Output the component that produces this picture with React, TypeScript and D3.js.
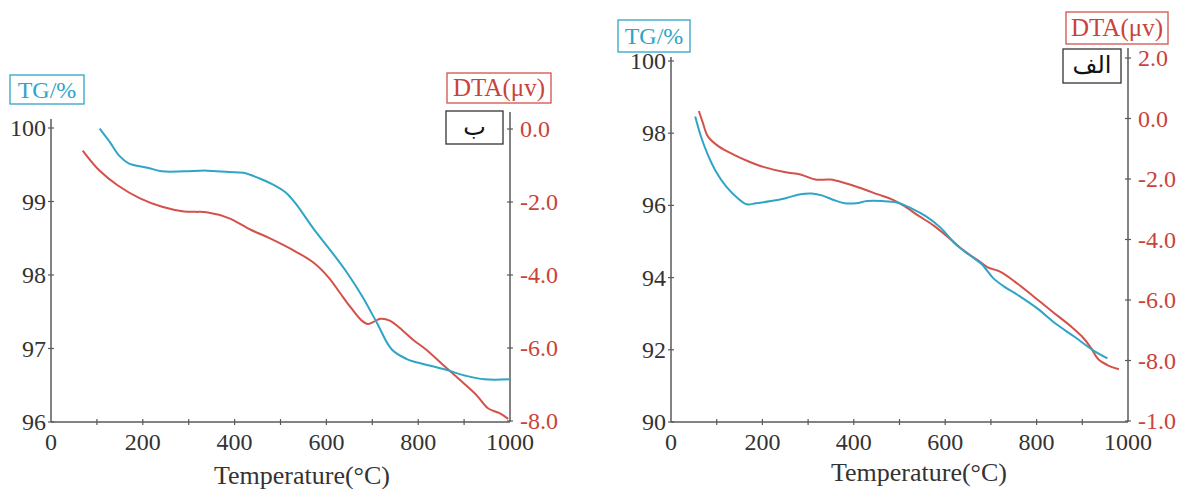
import React from "react";
import * as d3 from "d3";

// ب (left) panel
const leftTgTemp = [106, 129, 149, 169, 210, 242, 290, 339, 387, 419, 452, 484, 512, 532, 573, 613, 645, 677, 710, 742, 774, 798, 855, 903, 944, 1000];
const leftTg = [99.99, 99.8, 99.62, 99.52, 99.46, 99.41, 99.41, 99.42, 99.4, 99.39, 99.32, 99.23, 99.12, 98.98, 98.62, 98.3, 98.03, 97.72, 97.35, 96.99, 96.86, 96.81, 96.72, 96.63, 96.58, 96.58];
const leftDtaTemp = [69, 105, 145, 194, 242, 290, 315, 339, 387, 435, 476, 532, 573, 605, 629, 653, 677, 690, 702, 718, 738, 766, 790, 815, 855, 895, 927, 952, 976, 996];
const leftDta = [-0.59, -1.13, -1.54, -1.9, -2.13, -2.26, -2.27, -2.28, -2.44, -2.76, -2.99, -3.35, -3.67, -4.07, -4.48, -4.89, -5.25, -5.34, -5.29, -5.2, -5.25, -5.52, -5.79, -6.02, -6.47, -6.92, -7.29, -7.65, -7.78, -7.94];
const leftTgTicks = [96, 97, 98, 99, 100];
const leftDtaTicks = [0, -2, -4, -6, -8];
const leftDtaLabels = ["0.0", "-2.0", "-4.0", "-6.0", "-8.0"];

// الف (right) panel
const rightTgTemp = [53, 65, 81, 97, 121, 146, 166, 186, 219, 251, 283, 308, 332, 356, 380, 405, 429, 462, 494, 526, 559, 591, 623, 656, 680, 704, 729, 761, 802, 842, 883, 923, 955];
const rightTg = [98.46, 97.93, 97.39, 96.97, 96.52, 96.2, 96.03, 96.06, 96.12, 96.2, 96.31, 96.33, 96.27, 96.15, 96.06, 96.06, 96.12, 96.12, 96.08, 95.92, 95.69, 95.37, 94.92, 94.6, 94.37, 94.0, 93.75, 93.5, 93.14, 92.72, 92.36, 91.99, 91.76];
const rightDtaTemp = [61, 69, 81, 105, 138, 170, 202, 251, 283, 316, 348, 380, 413, 453, 486, 510, 542, 575, 607, 640, 672, 692, 721, 753, 794, 834, 875, 899, 919, 935, 955, 980];
const rightDta = [0.25, -0.11, -0.6, -0.93, -1.2, -1.42, -1.6, -1.78, -1.85, -2.02, -2.02, -2.13, -2.29, -2.51, -2.69, -2.89, -3.22, -3.54, -3.93, -4.36, -4.69, -4.91, -5.07, -5.4, -5.89, -6.38, -6.87, -7.2, -7.58, -7.96, -8.15, -8.29];
const rightTgTicks = [90, 92, 94, 96, 98, 100];
const rightDtaTicks = [2, 0, -2, -4, -6, -8, -10];
const rightDtaLabels = ["2.0", "0.0", "-2.0", "-4.0", "-6.0", "-8.0", "-1.0"];

const tempTicks = [0, 100, 200, 300, 400, 500, 600, 700, 800, 900, 1000];
const tempLabels = ["0", "", "200", "", "400", "", "600", "", "800", "", "1000"];

const TEAL = "#2fa5c6";
const RED = "#d4514a";
const RED_TEXT = "#c9433b";
const AXIS = "#5a5a5a";
const TEXT = "#333";
const SERIF = "'Liberation Serif', 'DejaVu Serif', serif";

interface PanelProps {
  x0: number;
  x1: number;
  yBottom: number;
  tgDomain: [number, number];
  tgRange: [number, number];
  dtaDomain: [number, number];
  dtaRange: [number, number];
  leftTop: number;
  rightTop: number;
  tgTemp: number[];
  tg: number[];
  dtaTemp: number[];
  dta: number[];
  tgTicks: number[];
  dtaTicks: number[];
  dtaLabels: string[];
  tgBox: [number, number, number, number];
  dtaBox: [number, number, number, number];
  tagBox: [number, number, number, number];
  tag: string;
  xTitleX: number;
  xTitleY: number;
}

const Panel: React.FC<PanelProps> = (p) => {
  const x = d3.scaleLinear().domain([0, 1000]).range([p.x0, p.x1]);
  const yTg = d3.scaleLinear().domain(p.tgDomain).range(p.tgRange);
  const yDta = d3.scaleLinear().domain(p.dtaDomain).range(p.dtaRange);

  const tgLine = d3
    .line<number>()
    .x((_, i) => x(p.tgTemp[i]))
    .y((d) => yTg(d))
    .curve(d3.curveCatmullRom.alpha(0.5));
  const dtaLine = d3
    .line<number>()
    .x((_, i) => x(p.dtaTemp[i]))
    .y((d) => yDta(d))
    .curve(d3.curveCatmullRom.alpha(0.5));

  const box = (b: [number, number, number, number], stroke: string) => (
    <rect x={b[0]} y={b[1]} width={b[2]} height={b[3]} fill="white" stroke={stroke} strokeWidth={1.3} />
  );

  return (
    <g>
      {/* axes */}
      <line x1={p.x0} x2={p.x0} y1={p.leftTop} y2={p.yBottom} stroke={AXIS} strokeWidth={1.5} />
      <line x1={p.x1} x2={p.x1} y1={p.rightTop} y2={p.yBottom} stroke={AXIS} strokeWidth={1.5} />
      <line x1={p.x0} x2={p.x1} y1={p.yBottom} y2={p.yBottom} stroke={AXIS} strokeWidth={1.5} />

      {tempTicks.map((t, i) => (
        <g key={"xt" + t}>
          {t > 0 && t < 1000 && (
            <line x1={x(t)} x2={x(t)} y1={p.yBottom - 3} y2={p.yBottom + 3} stroke={AXIS} strokeWidth={1.2} />
          )}
          <text x={x(t)} y={p.yBottom + 28} textAnchor="middle" fontFamily={SERIF} fontSize={24} fill={TEXT}>
            {tempLabels[i]}
          </text>
        </g>
      ))}

      {p.tgTicks.map((t) => (
        <g key={"tg" + t}>
          <line x1={p.x0 - 3} x2={p.x0 + 3} y1={yTg(t)} y2={yTg(t)} stroke={AXIS} strokeWidth={1.2} />
          <text x={p.x0 - 5} y={yTg(t) + 8} textAnchor="end" fontFamily={SERIF} fontSize={24} fill={TEXT}>
            {t}
          </text>
        </g>
      ))}

      {p.dtaTicks.map((t, i) => (
        <g key={"dta" + t}>
          <line x1={p.x1 - 3} x2={p.x1 + 3} y1={yDta(t)} y2={yDta(t)} stroke={AXIS} strokeWidth={1.2} />
          <text x={p.x1 + 10} y={yDta(t) + 8} textAnchor="start" fontFamily={SERIF} fontSize={24} fill={RED_TEXT}>
            {p.dtaLabels[i]}
          </text>
        </g>
      ))}

      {/* curves */}
      <path d={dtaLine(p.dta) ?? ""} fill="none" stroke={RED} strokeWidth={2} />
      <path d={tgLine(p.tg) ?? ""} fill="none" stroke={TEAL} strokeWidth={2} />

      {/* labels */}
      {box(p.tgBox, TEAL)}
      <text
        x={p.tgBox[0] + p.tgBox[2] / 2}
        y={p.tgBox[1] + p.tgBox[3] / 2 + 8}
        textAnchor="middle"
        fontFamily={SERIF}
        fontSize={24}
        fill={TEAL}
      >
        TG/%
      </text>
      {box(p.dtaBox, RED)}
      <text
        x={p.dtaBox[0] + p.dtaBox[2] / 2}
        y={p.dtaBox[1] + p.dtaBox[3] / 2 + 8}
        textAnchor="middle"
        fontFamily={SERIF}
        fontSize={25}
        fill={RED_TEXT}
      >
        DTA(μv)
      </text>
      {box(p.tagBox, "#333")}
      <text
        x={p.tagBox[0] + p.tagBox[2] / 2}
        y={p.tagBox[1] + p.tagBox[3] / 2 + 7}
        textAnchor="middle"
        fontFamily="'DejaVu Sans', 'Noto Sans', sans-serif"
        fontSize={24}
        fill="#111"
        direction="rtl"
      >
        {p.tag}
      </text>

      <text x={p.xTitleX} y={p.xTitleY} textAnchor="middle" fontFamily={SERIF} fontSize={26} fill={TEXT}>
        Temperature(°C)
      </text>
    </g>
  );
};

export default function App() {
  return (
    <svg
      width={1180}
      height={489}
      style={{ position: "absolute", left: 0, top: 0, background: "white" }}
    >
      <Panel
        x0={51}
        x1={510}
        yBottom={422}
        tgDomain={[96, 100]}
        tgRange={[422, 128]}
        dtaDomain={[-8, 0]}
        dtaRange={[421, 129]}
        leftTop={119}
        rightTop={112}
        tgTemp={leftTgTemp}
        tg={leftTg}
        dtaTemp={leftDtaTemp}
        dta={leftDta}
        tgTicks={leftTgTicks}
        dtaTicks={leftDtaTicks}
        dtaLabels={leftDtaLabels}
        tgBox={[10, 75, 74, 29]}
        dtaBox={[447, 73, 104, 30]}
        tagBox={[446, 111, 57, 33]}
        tag="ب"
        xTitleX={302}
        xTitleY={484}
      />
      <Panel
        x0={671}
        x1={1128}
        yBottom={422}
        tgDomain={[90, 100]}
        tgRange={[422, 61]}
        dtaDomain={[-10, 2]}
        dtaRange={[421, 58]}
        leftTop={57}
        rightTop={48}
        tgTemp={rightTgTemp}
        tg={rightTg}
        dtaTemp={rightDtaTemp}
        dta={rightDta}
        tgTicks={rightTgTicks}
        dtaTicks={rightDtaTicks}
        dtaLabels={rightDtaLabels}
        tgBox={[618, 20, 72, 32]}
        dtaBox={[1066, 12, 102, 32]}
        tagBox={[1063, 49, 58, 34]}
        tag="الف"
        xTitleX={919}
        xTitleY={481}
      />
    </svg>
  );
}
